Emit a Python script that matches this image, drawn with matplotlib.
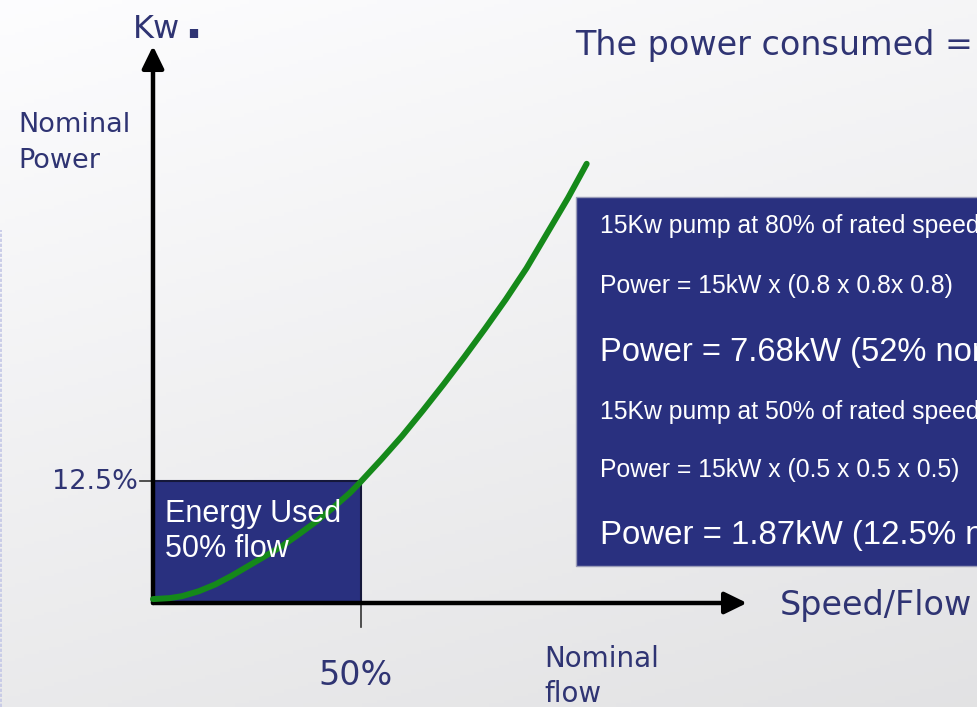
import numpy as np
import matplotlib
matplotlib.use("Agg")
import matplotlib.pyplot as plt
from matplotlib.patches import Rectangle

# ---------------- data ----------------
flow_pct = [0, 4, 7, 11, 15, 19, 23, 27, 31, 35, 39.5, 43.5, 47.5, 50,
            55, 60, 65, 70, 75, 80, 85, 90, 95, 100, 104.5]
power_pct = [0.4, 0.5, 0.7, 1.2, 1.9, 2.8, 3.8, 4.8, 5.8, 7.0, 8.4, 9.8, 11.3, 12.4,
             14.7, 17.1, 19.7, 22.4, 25.2, 28.1, 31.1, 34.3, 37.9, 41.5, 45.0]
energy_flow = 50
energy_power = 12.5
x_tick_label = "50%"
y_tick_label = "12.5%"
box_lines = [
    "15Kw pump at 80% of rated speed",
    "Power = 15kW x (0.8 x 0.8x 0.8)",
    "Power = 7.68kW (52% nominal)",
    "15Kw pump at 50% of rated speed",
    "Power = 15kW x (0.5 x 0.5 x 0.5)",
    "Power = 1.87kW (12.5% nominal)",
]

# ---------------- layout ----------------
W, H = 978, 707
fig = plt.figure(figsize=(W / 100, H / 100), dpi=100)

def fx(px):
    return px / W

def fy(py):
    return 1 - py / H

# background gradient
bg = fig.add_axes([0, 0, 1, 1], zorder=0)
yy, xx = np.mgrid[0:1:200j, 0:1:200j]
g = 0.992 - 0.075 * yy - 0.03 * xx
bg.imshow(np.dstack([g, g, g + 0.006]).clip(0, 1), extent=[0, 1, 0, 1], aspect="auto", origin="upper")
bg.set_axis_off()
bg.plot([0.001, 0.001], [0, fy(230)], color="#c3c7e6", lw=1.2, ls=(0, (2, 1)))
bg.set_xlim(0, 1)
bg.set_ylim(0, 1)

ax = fig.add_axes([0, 0, 1, 1], zorder=1)
ax.patch.set_alpha(0)
ax.set_axis_off()
X0, Y0 = 153, 603
SX, SY = 4.15, 9.76
ax.set_xlim(-X0 / SX, (W - X0) / SX)
ax.set_ylim(-(H - Y0) / SY, Y0 / SY)

navy_box = "#29307f"
label_col = "#2f3473"

# energy used rectangle
ax.add_patch(Rectangle((0, 0), energy_flow, energy_power, facecolor=navy_box,
                       edgecolor="#15183a", lw=1.5, zorder=2))

# ticks
ax.plot([energy_flow, energy_flow], [0, -(627 - Y0) / SY], color="#333333", lw=1.2, zorder=3)
ax.plot([-(X0 - 140) / SX, 0], [energy_power, energy_power], color="#333333", lw=1.2, zorder=3)

# axes arrows
ax.annotate("", xy=(0, (Y0 - 46) / SY), xytext=(0, 0),
            arrowprops=dict(arrowstyle="-|>,head_length=0.45,head_width=0.22", lw=3.2,
                            color="black", mutation_scale=30, shrinkA=0, shrinkB=0), zorder=4)
ax.annotate("", xy=((747 - X0) / SX, 0), xytext=(0, 0),
            arrowprops=dict(arrowstyle="-|>,head_length=0.45,head_width=0.22", lw=3.2,
                            color="black", mutation_scale=30, shrinkA=0, shrinkB=0), zorder=4)

# green curve
ax.plot(flow_pct, power_pct, color="#15891a", lw=4.3, solid_capstyle="round",
        solid_joinstyle="round", zorder=5)

# labels (DejaVu)
lab = dict(color=label_col, family="DejaVu Sans", va="baseline", ha="left")
fig.text(fx(133), fy(38), "Kw", size=23, **lab)
fig.text(fx(184), fy(38), ".", size=34, weight="bold", **lab)
fig.text(fx(18), fy(132), "Nominal", size=19.5, **lab)
fig.text(fx(18), fy(168), "Power", size=19.5, **lab)
fig.text(fx(575), fy(55), "The power consumed =", size=24, **lab)
fig.text(fx(52), fy(489), y_tick_label, size=19.5, **lab)
fig.text(fx(318), fy(685), x_tick_label, size=24, **lab)
fig.text(fx(780), fy(615), "Speed/Flow", size=24, **lab)
fig.text(fx(544), fy(667), "Nominal", size=20, **lab)
fig.text(fx(544), fy(702), "flow", size=20, **lab)

# energy box text
wt = dict(color="white", family="Liberation Sans", va="baseline", ha="left", zorder=6)
ax.text((165 - X0) / SX, (Y0 - 522) / SY, "Energy Used", size=22, **wt)
ax.text((165 - X0) / SX, (Y0 - 557) / SY, "50% flow", size=22, **wt)

# info box
fig.patches.append(Rectangle((fx(576), fy(566)), fx(990) - fx(576), fy(197) - fy(566),
                             transform=fig.transFigure, facecolor=navy_box,
                             edgecolor="#9a9cb8", lw=1.0, zorder=2))
baselines = [233, 293, 361, 419, 477, 544]
sizes = [17.8, 17.8, 23.6, 17.8, 17.8, 23.8]
for txt, b, s in zip(box_lines, baselines, sizes):
    fig.text(fx(600), fy(b), txt, size=s, color="white", family="Liberation Sans",
             va="baseline", ha="left", zorder=6)

fig.savefig("out.png", dpi=100)
